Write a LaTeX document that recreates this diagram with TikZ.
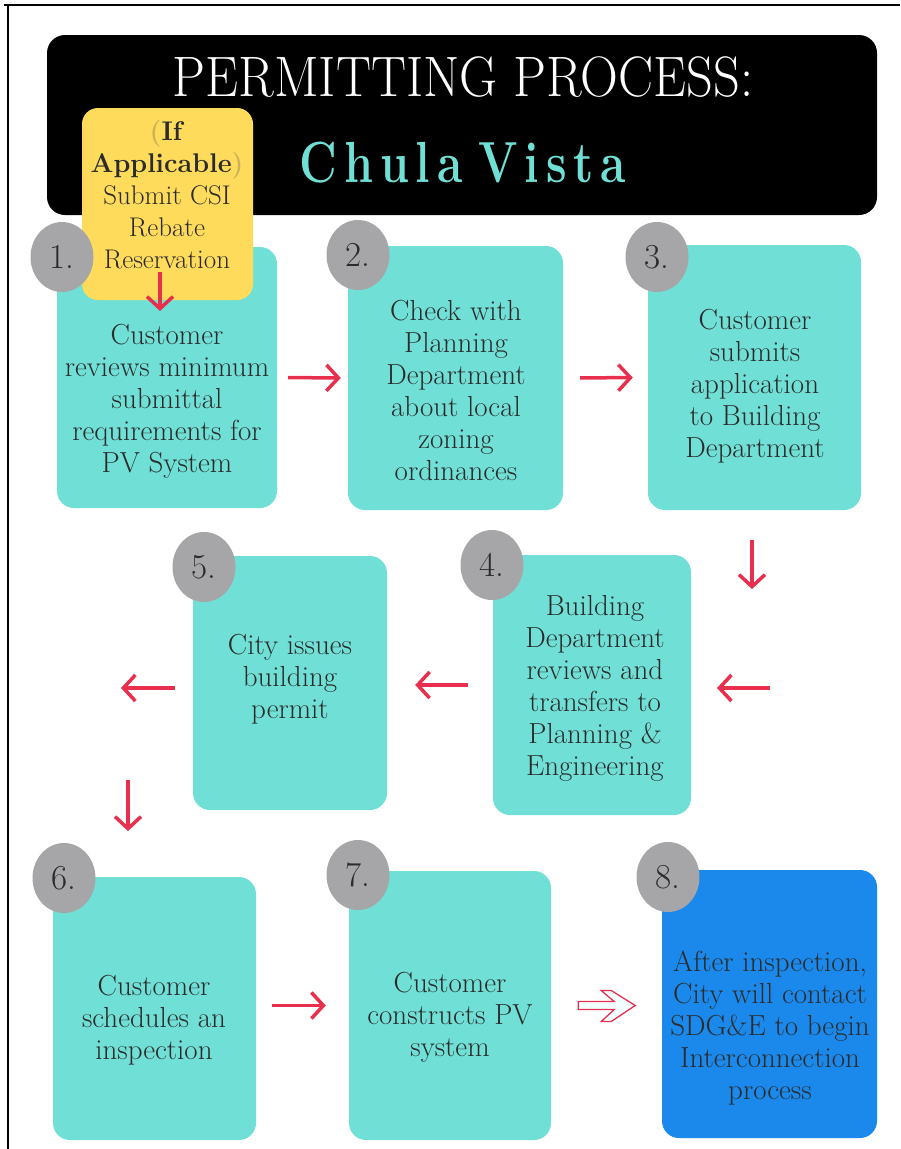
\documentclass[tikz,border=0pt]{standalone}
\usepackage{fontspec}
\usepackage{graphicx}
\usetikzlibrary{arrows.meta,shapes.geometric}
\definecolor{tealbox}{HTML}{70E0D6}
\definecolor{disc}{HTML}{A6A6A8}
\definecolor{noteyellow}{HTML}{FFDB5B}
\definecolor{finalblue}{HTML}{1A89EB}
\definecolor{flowred}{HTML}{E8304E}
\definecolor{textdark}{HTML}{2B2B2B}
\definecolor{paren}{HTML}{C9B25A}
\definecolor{hollowfill}{HTML}{F2FFFF}
\newcommand{\lsp}{\kern8.5pt}
\begin{document}
\begin{tikzpicture}[x=1pt,y=-1pt,
  stepbox/.style={fill=tealbox, rounded corners=17pt, inner sep=0pt},
  numdisc/.style={ellipse, fill=disc, minimum width=63pt, minimum height=70pt, inner sep=0pt,
    text=textdark, font=\fontsize{35}{35}\selectfont},
  steptext/.style={align=center, text=textdark, inner sep=0pt, font=\fontsize{29}{32}\selectfont},
  notetext/.style={align=center, text=textdark, inner sep=0pt, font=\fontsize{27}{32}\selectfont},
  flow/.style={draw=flowred, line width=3.5pt, -{Straight Barb[length=12pt,width=26pt]}}]
\useasboundingbox (0,0) rectangle (900,1149);

% page frame
\draw[line width=2pt] (4,5) -- (900,5);
\draw[line width=2pt] (8,5) -- (8,1149);

% title banner
\node[fill=black, rounded corners=18pt, minimum width=830pt, minimum height=180pt, inner sep=0pt] (banner) at (462,125) {};
\node[anchor=base, text=white, inner sep=0pt, font=\fontsize{57}{60}\selectfont] (title) at (463,96)
  {\scalebox{0.92}[1]{PERMITTING PROCESS:}};
\node[anchor=base, text=tealbox, inner sep=0pt, font=\fontsize{58}{60}\selectfont\bfseries] (city) at (463,182)
  {\scalebox{0.8}[1]{C\lsp h\lsp u\lsp l\lsp a\kern20pt V\lsp i\lsp s\lsp t\lsp a}};

% step boxes
\node[stepbox, minimum width=220pt, minimum height=261pt] (s1) at (167,377.5) {};
\node[stepbox, minimum width=215pt, minimum height=264pt] (s2) at (455.5,378) {};
\node[stepbox, minimum width=213pt, minimum height=265pt] (s3) at (754.5,377.5) {};
\node[stepbox, minimum width=198pt, minimum height=260pt] (s4) at (592,685) {};
\node[stepbox, minimum width=194pt, minimum height=254pt] (s5) at (290,683) {};
\node[stepbox, minimum width=203pt, minimum height=263pt] (s6) at (154.5,1008.5) {};
\node[stepbox, minimum width=202pt, minimum height=269pt] (s7) at (450,1005.5) {};
\node[fill=finalblue, rounded corners=17pt, inner sep=0pt, minimum width=215pt, minimum height=268pt] (s8) at (769.5,1004) {};

% optional rebate note
\node[fill=noteyellow, rounded corners=16pt, inner sep=0pt, minimum width=171pt, minimum height=192pt] (note) at (167.5,204) {};
\node[notetext] (ntext) at (167,195)
  {\textbf{\textcolor{paren}{(}If}\\ \textbf{Applicable\textcolor{paren}{)}}\\ Submit CSI\\ Rebate\\ Reservation};

% step texts
\node[steptext] (t1) at (167,401) {Customer\\ reviews minimum\\ submittal\\ requirements for\\ PV System};
\node[steptext] (t2) at (456,390) {Check with\\ Planning\\ Department\\ about local\\ zoning\\ ordinances};
\node[steptext] (t3) at (755,386) {Customer\\ submits\\ application\\ to Building\\ Department};
\node[steptext] (t4) at (595,688) {Building\\ Department\\ reviews and\\ transfers to\\ Planning \&\\ Engineering};
\node[steptext] (t5) at (290,679) {City issues\\ building\\ permit};
\node[steptext] (t6) at (154,1020) {Customer\\ schedules an\\ inspection};
\node[steptext] (t7) at (450,1017) {Customer\\ constructs PV\\ system};
\node[steptext] (t8) at (770,1028) {After inspection,\\ City will contact\\ SDG\&E to begin\\ Interconnection\\ process};

% step numbers
\node[numdisc] (n1) at (62,257) {1.};
\node[numdisc] (n2) at (358,255) {2.};
\node[numdisc] (n3) at (657,257) {3.};
\node[numdisc] (n4) at (492,565) {4.};
\node[numdisc] (n5) at (204,567) {5.};
\node[numdisc] (n6) at (64,878) {6.};
\node[numdisc] (n7) at (358,875) {7.};
\node[numdisc] (n8) at (668,877) {8.};

% free ends of the connectors
\coordinate (noteout) at (160,272);
\coordinate (notein) at (160,311);
\coordinate (down3a) at (752,540);
\coordinate (down3b) at (752,589);
\coordinate (left4a) at (770,688);
\coordinate (left4b) at (717,688);
\coordinate (left5) at (121,688);
\coordinate (down5a) at (128,780);
\coordinate (down5b) at (128,831);

% connectors
\draw[flow] (noteout) -- (notein);
\draw[flow, shorten <=11pt, shorten >=7pt] (s1.east) -- (s2.west);
\draw[flow, shorten <=17pt, shorten >=15pt] (s2.east) -- (s3.west);
\draw[flow] (down3a) -- (down3b);
\draw[flow] (left4a) -- (left4b);
\draw[flow, shorten <=25pt, shorten >=28pt] (s4.west) -- (s5.east |- s4.west);
\draw[flow, shorten <=18pt] (s5.west |- left5) -- (left5);
\draw[flow] (down5a) -- (down5b);
\draw[flow, shorten <=16pt, shorten >=23pt] (s6.east |- s7.west) -- (s7.west);

% hollow arrow into the final step
\draw[draw=flowred, fill=hollowfill, line width=1.3pt, line join=miter]
  ([xshift=27pt,yshift=4pt]s7.east) -- ++(36,0) -- ++(-13,-11) -- ++(10,0) -- ++(24,15)
  -- ++(-24,16) -- ++(-10,0) -- ++(13,-12) -- ++(-36,0) -- cycle;
\end{tikzpicture}
\end{document}
